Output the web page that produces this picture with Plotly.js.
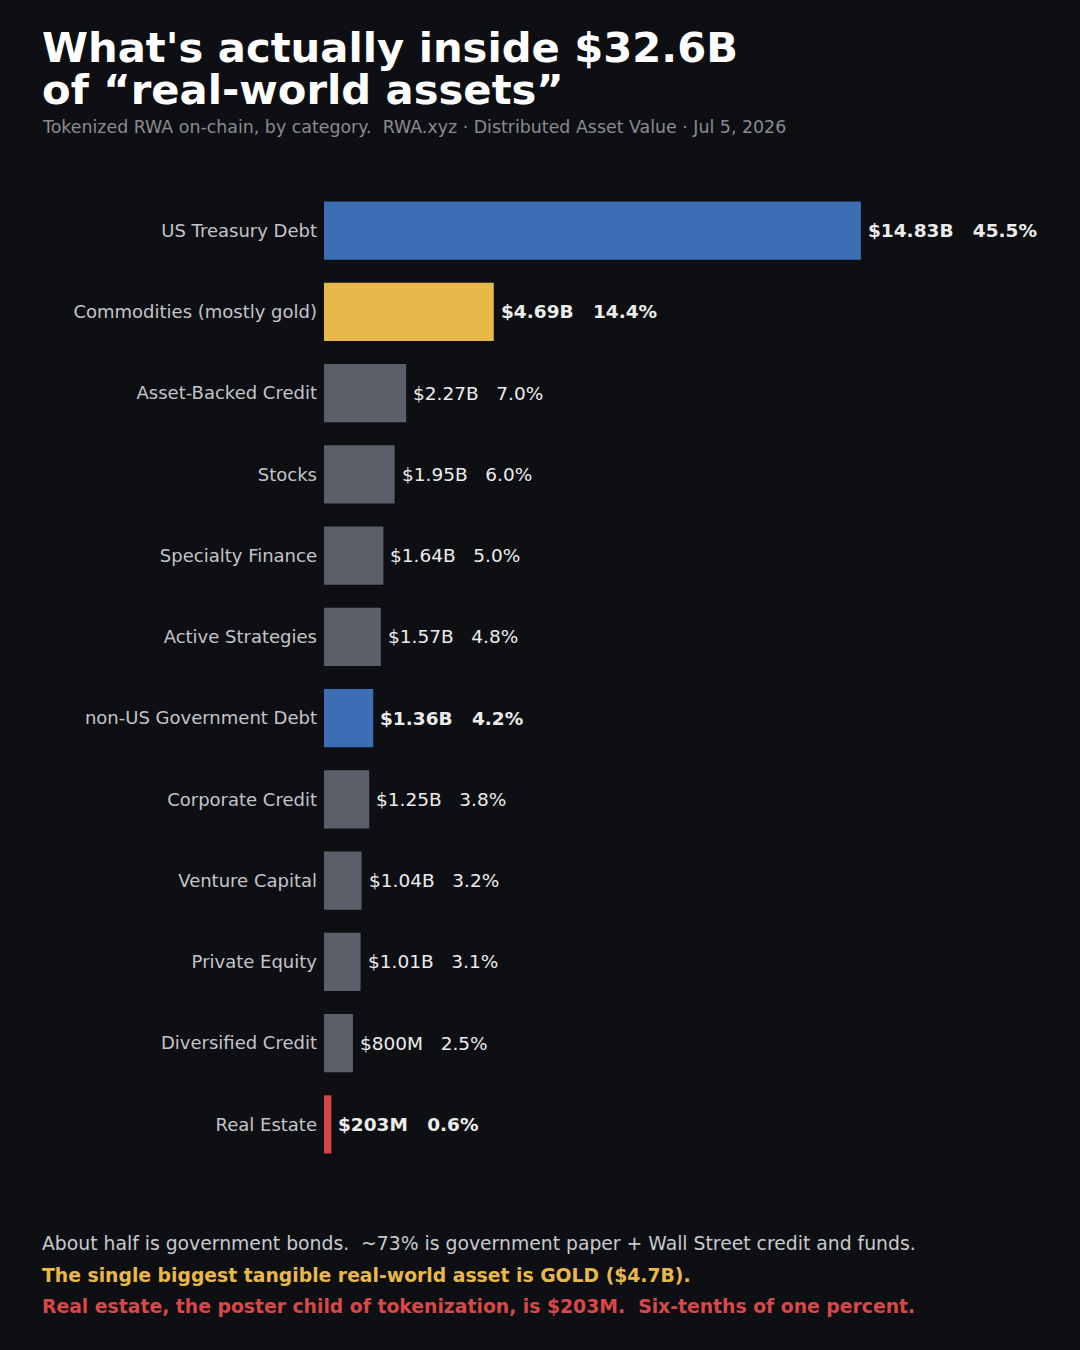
<!DOCTYPE html>
<html><head><meta charset="utf-8">
<script src="https://cdn.plot.ly/plotly-3.0.1.min.js"></script>
<style>html,body{margin:0;padding:0;background:#0e0f13;}#chart{width:1080px;height:1350px;}</style>
</head><body><div id="chart"></div>
<script>
const categories = ["US Treasury Debt","Commodities (mostly gold)","Asset-Backed Credit","Stocks","Specialty Finance","Active Strategies","non-US Government Debt","Corporate Credit","Venture Capital","Private Equity","Diversified Credit","Real Estate"];
const valuesB = [14.83,4.69,2.27,1.95,1.64,1.57,1.36,1.25,1.04,1.01,0.80,0.203];
const valueLabels = ["$14.83B","$4.69B","$2.27B","$1.95B","$1.64B","$1.57B","$1.36B","$1.25B","$1.04B","$1.01B","$800M","$203M"];
const shareLabels = ["45.5%","14.4%","7.0%","6.0%","5.0%","4.8%","4.2%","3.8%","3.2%","3.1%","2.5%","0.6%"];
const highlight = [true,true,false,false,false,false,true,false,false,false,false,true];
const barColors = ["#3b6eb4","#e8b84b","#5b5f69","#5b5f69","#5b5f69","#5b5f69","#3b6eb4","#5b5f69","#5b5f69","#5b5f69","#5b5f69","#d64545"];

const FONT = "DejaVu Sans, sans-serif";
const W = 1080, H = 1350, ML = 324, MR = 32, MT = 190, MB = 185;
const PW = W - ML - MR, PH = H - MT - MB;
const sp = "\u00a0\u00a0\u00a0";
const annotations = categories.map((c,i)=>({
  x: valuesB[i], y: c, xref:"x", yref:"y", xanchor:"left", yanchor:"middle", xshift:5,
  showarrow:false,
  text: highlight[i] ? "<b>"+valueLabels[i]+sp+shareLabels[i]+"</b>" : valueLabels[i]+sp+shareLabels[i],
  font:{family:FONT,size:18.5,color:"#ececec"}
}));
const paperText = [
  {x:40,y:48,text:"<b>What's actually inside $32.6B</b>",size:41.7,color:"#ffffff"},
  {x:40,y:89,text:"<b>of \u201creal-world assets\u201d</b>",size:41.7,color:"#ffffff"},
  {x:40,y:127,text:"Tokenized RWA on-chain, by category.\u00a0\u00a0RWA.xyz \u00b7 Distributed Asset Value \u00b7 Jul 5, 2026",size:17.4,color:"#8a8b8f"},
  {x:40,y:1243,text:"About half is government bonds.\u00a0\u00a0~73% is government paper + Wall Street credit and funds.",size:18.8,color:"#c9cacd"},
  {x:40,y:1275,text:"<b>The single biggest tangible real-world asset is GOLD ($4.7B).</b>",size:18.8,color:"#e8b84b"},
  {x:40,y:1306,text:"<b>Real estate, the poster child of tokenization, is $203M.\u00a0\u00a0Six-tenths of one percent.</b>",size:18.8,color:"#d94848"}
];
paperText.forEach(t=>annotations.push({
  x:(t.x-ML)/PW, y:(H-MB-t.y)/PH, xref:"paper", yref:"paper", xanchor:"left", yanchor:"middle",
  showarrow:false, text:t.text, font:{family:FONT,size:t.size,color:t.color}
}));

const trace = {
  type:"bar", orientation:"h", y:categories, x:valuesB,
  marker:{color:barColors, line:{width:0}}, width:0.715, hoverinfo:"none"
};
const layout = {
  width:W, height:H,
  paper_bgcolor:"#0e0f13", plot_bgcolor:"#0e0f13",
  margin:{l:ML, r:MR, t:MT, b:MB, pad:0},
  showlegend:false,
  xaxis:{range:[0,20], visible:false, showgrid:false, zeroline:false, fixedrange:true},
  yaxis:{autorange:false, range:[11.5,-0.5], showgrid:false, zeroline:false, showline:false, ticks:"", ticklabelstandoff:6,
         tickfont:{family:FONT,size:18,color:"#c4c5c8"}},
  annotations:annotations,
  font:{family:FONT}
};
Plotly.newPlot("chart",[trace],layout,{displayModeBar:false,staticPlot:true});
</script></body></html>
